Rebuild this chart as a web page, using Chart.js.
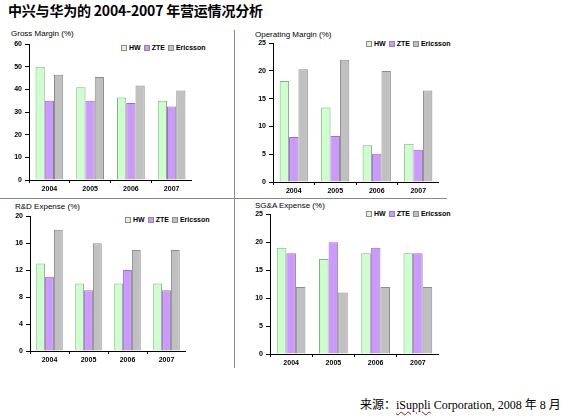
<!DOCTYPE html>
<html>
<head>
<meta charset="utf-8">
<script src="https://cdn.jsdelivr.net/npm/chart.js@4"></script>
<style>
  html, body { margin:0; padding:0; background:#fff; }
  body { width:577px; height:420px; position:relative; overflow:hidden; font-family:"Liberation Sans", Arial, sans-serif; }
  .abs { position:absolute; white-space:nowrap; }
  #title { left:8px; top:2px; font-family:"Noto Sans CJK SC","Liberation Sans",sans-serif; font-weight:bold; font-size:14px; line-height:16px; color:#000; letter-spacing:-0.2px; }
  .sub { font-size:8px; line-height:8px; color:#000; }
  .legend { font-size:7px; line-height:7px; font-weight:bold; color:#000; display:flex; align-items:center; }
  .legend .box { width:4px; height:4px; border:1px solid #8c8c8c; margin-right:2px; margin-left:2px; }
  .legend .lbl { margin-right:1px; }
  #source { left:360px; top:397px; font-family:"Liberation Serif","Times New Roman","Noto Sans CJK SC",serif; font-size:12px; line-height:16px; color:#000; }
  #source .sp { text-decoration: underline wavy #c00000; text-decoration-thickness:1px; text-underline-offset:2px; }
  .vline { left:234px; top:30px; width:1px; height:338px; background:#8a8a8a; }
  .hline { left:0px; top:198px; width:447px; height:1px; background:#8a8a8a; }
  canvas { position:absolute; }
</style>
</head>
<body>
<div id="title" class="abs">中兴与华为的 2004-2007 年营运情况分析</div>
<div class="abs vline"></div>
<div class="abs hline"></div>

<div class="abs sub" style="left:11px;top:30px;">Gross Margin (%)</div>
<div class="abs sub" style="left:255px;top:31px;">Operating Margin (%)</div>
<div class="abs sub" style="left:15px;top:203px;">R&amp;D Expense (%)</div>
<div class="abs sub" style="left:255px;top:202px;">SG&amp;A Expense (%)</div>

<div id="lg1" class="abs legend" style="left:119px;top:44px;"></div>
<div id="lg2" class="abs legend" style="left:364px;top:40px;"></div>
<div id="lg3" class="abs legend" style="left:123px;top:216px;"></div>
<div id="lg4" class="abs legend" style="left:364px;top:210px;"></div>

<canvas id="c1" width="191" height="161" style="left:1px;top:37px;"></canvas>
<canvas id="c2" width="194" height="164" style="left:245px;top:36px;"></canvas>
<canvas id="c3" width="184" height="160" style="left:2px;top:209px;"></canvas>
<canvas id="c4" width="197" height="165" style="left:242px;top:207px;"></canvas>

<div id="source" class="abs">来源：<span class="sp">iSuppli</span> Corporation, 2008 年 8 月</div>

<script>
// ---- data ----
const categories = ['2004', '2005', '2006', '2007'];
const seriesNames = ['HW', 'ZTE', 'Ericsson'];

const grossHW  = [50, 41, 36.5, 35];
const grossZTE = [35, 35, 34, 32.5];
const grossEri = [46.5, 45.5, 41.7, 39.5];

const opHW  = [18.2, 13.4, 6.6, 6.9];
const opZTE = [8.1, 8.3, 5.1, 5.8];
const opEri = [20.3, 22, 20, 16.5];

const rdHW  = [13, 10, 10, 10];
const rdZTE = [11, 9, 12, 9];
const rdEri = [18, 16, 15, 15];

const sgaHW  = [19, 17, 18, 18];
const sgaZTE = [18, 20, 19, 18];
const sgaEri = [12, 11, 12, 12];

const grossTicks = [0, 10, 20, 30, 40, 50, 60];
const opTicks    = [0, 5, 10, 15, 20, 25];
const rdTicks    = [0, 4, 8, 12, 16, 20];
const sgaTicks   = [0, 5, 10, 15, 20, 25];

// ---- styles ----
const fills = ['#ccffcc', '#cc99ff', '#c0c0c0'];
const borders = ['#8fa88f', '#8f7aa8', '#8c8c8c'];

function buildLegend(id) {
  const el = document.getElementById(id);
  seriesNames.forEach((n, i) => {
    const b = document.createElement('span');
    b.className = 'box';
    b.style.background = fills[i];
    const t = document.createElement('span');
    t.className = 'lbl';
    t.textContent = n;
    el.appendChild(b); el.appendChild(t);
  });
}
['lg1','lg2','lg3','lg4'].forEach(buildLegend);

const tickFont = { family: '"Liberation Sans", Arial, sans-serif', size: 7, weight: 'bold' };

function makeChart(id, series, ticks) {
  const datasets = series.map((d, i) => ({
    label: seriesNames[i],
    data: d,
    backgroundColor: fills[i],
    borderColor: borders[i],
    borderWidth: 1,
    categoryPercentage: 0.68,
    barPercentage: 1.0
  }));
  new Chart(document.getElementById(id), {
    type: 'bar',
    data: { labels: categories, datasets },
    options: {
      responsive: false,
      animation: false,
      devicePixelRatio: 1,
      layout: { padding: { top: 6, left: 0, right: 0, bottom: 0 } },
      plugins: { legend: { display: false }, title: { display: false }, tooltip: { enabled: false } },
      scales: {
        x: {
          grid: { display: true, drawOnChartArea: false, drawTicks: true, tickLength: 3, color: '#000', offset: true },
          border: { display: true, color: '#000', width: 1 },
          ticks: { font: tickFont, color: '#000', padding: 2, maxRotation: 0 },
          afterFit: s => { s.height = 18; }
        },
        y: {
          min: ticks[0],
          max: ticks[ticks.length - 1],
          afterBuildTicks: s => { s.ticks = ticks.map(v => ({ value: v })); },
          grid: { display: true, drawOnChartArea: false, drawTicks: true, tickLength: 4, color: '#000' },
          border: { display: true, color: '#000', width: 1 },
          ticks: { font: tickFont, color: '#000', padding: 3 },
          afterFit: s => { s.width = 28; }
        }
      }
    }
  });
}

makeChart('c1', [grossHW, grossZTE, grossEri], grossTicks);
makeChart('c2', [opHW, opZTE, opEri], opTicks);
makeChart('c3', [rdHW, rdZTE, rdEri], rdTicks);
makeChart('c4', [sgaHW, sgaZTE, sgaEri], sgaTicks);
</script>
</body>
</html>
